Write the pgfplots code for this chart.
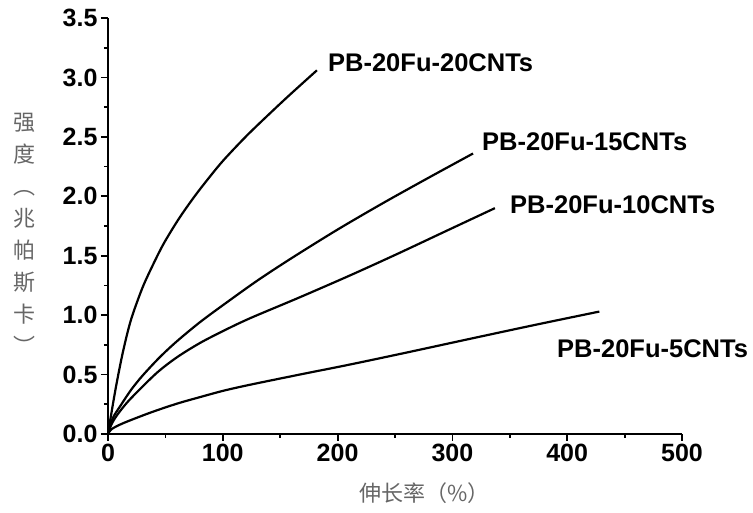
\documentclass[border=0pt]{standalone}
\usepackage{fontspec}
\setmainfont{Liberation Sans}
\newfontfamily\cjk{Noto Sans CJK SC}
\usepackage{pgfplots}
\pgfplotsset{compat=1.18}
\begin{document}
\begin{tikzpicture}[x=1pt,y=1pt]
\path[use as bounding box] (0,0) rectangle (753,513);
\begin{axis}[
  at={(108pt,79pt)}, anchor=south west,
  scale only axis, width=574pt, height=416pt,
  xmin=0, xmax=500, ymin=0, ymax=3.5,
  axis x line*=bottom, axis y line*=left,
  xtick={0,100,200,300,400,500},
  ytick={0,0.5,1,1.5,2,2.5,3,3.5},
  minor tick num=1,
  tick align=outside,
  major tick length=7pt, minor tick length=4pt,
  every tick/.style={black, line width=1.8pt},
  axis line style={line width=2.2pt},
  ticklabel style={font=\fontsize{25}{28}\selectfont\bfseries},
  /pgf/number format/assume math mode=true,
  yticklabel style={/pgf/number format/.cd, fixed, fixed zerofill, precision=1},
  xticklabel style={/pgf/number format/.cd, fixed, precision=0},
  clip=false,
  xlabel={伸长率（\%）},
  xlabel style={at={(axis description cs:0.552,-0.142)}, anchor=center, font=\cjk\fontsize{22}{26}\selectfont, text=black!60},
  ylabel={强\\度\\︵\\兆\\帕\\斯\\卡\\︶},
  ylabel style={at={(axis description cs:-0.1446,0.482)}, anchor=center, rotate=-90, align=center, font=\cjk\fontsize{22}{32}\selectfont, text=black!60},
]
\addplot[black, line width=2.2pt, smooth] coordinates {
(0,0) (2,0.12) (7,0.40) (13,0.69) (20,0.96) (30,1.23) (40,1.44) (49,1.61) (62,1.815) (77,2.02) (95,2.24) (106,2.36) (124,2.54) (154,2.815) (182,3.06)};
\addplot[black, line width=2.2pt, smooth] coordinates {
(0,0) (2,0.08) (5,0.15) (11,0.24) (20,0.37) (30,0.49) (45,0.645) (60,0.78) (80,0.94) (101,1.09) (130,1.29) (160,1.48) (200,1.72) (240,1.945) (280,2.16) (318,2.36)};
\addplot[black, line width=2.2pt, smooth] coordinates {
(0,0) (3,0.08) (8,0.16) (19,0.29) (42,0.51) (60,0.645) (80,0.765) (101,0.87) (124,0.975) (167,1.15) (211,1.335) (252,1.515) (295,1.71) (337,1.90)};
\addplot[black, line width=2.2pt, smooth] coordinates {
(0,0) (3,0.04) (13,0.09) (37,0.18) (60,0.255) (80,0.31) (101,0.365) (124,0.415) (167,0.50) (211,0.585) (260,0.685) (315,0.80) (373,0.92) (428,1.03)};
\node[anchor=west, inner sep=0pt, font=\fontsize{25.5}{28}\selectfont\bfseries] at (axis cs:191.6,3.12) {PB-20Fu-20CNTs};
\node[anchor=west, inner sep=0pt, font=\fontsize{25.5}{28}\selectfont\bfseries] at (axis cs:325.8,2.457) {PB-20Fu-15CNTs};
\node[anchor=west, inner sep=0pt, font=\fontsize{25.5}{28}\selectfont\bfseries] at (axis cs:350.2,1.927) {PB-20Fu-10CNTs};
\node[anchor=west, inner sep=0pt, font=\fontsize{25.5}{28}\selectfont\bfseries] at (axis cs:391.1,0.715) {PB-20Fu-5CNTs};
\end{axis}
\end{tikzpicture}
\end{document}
